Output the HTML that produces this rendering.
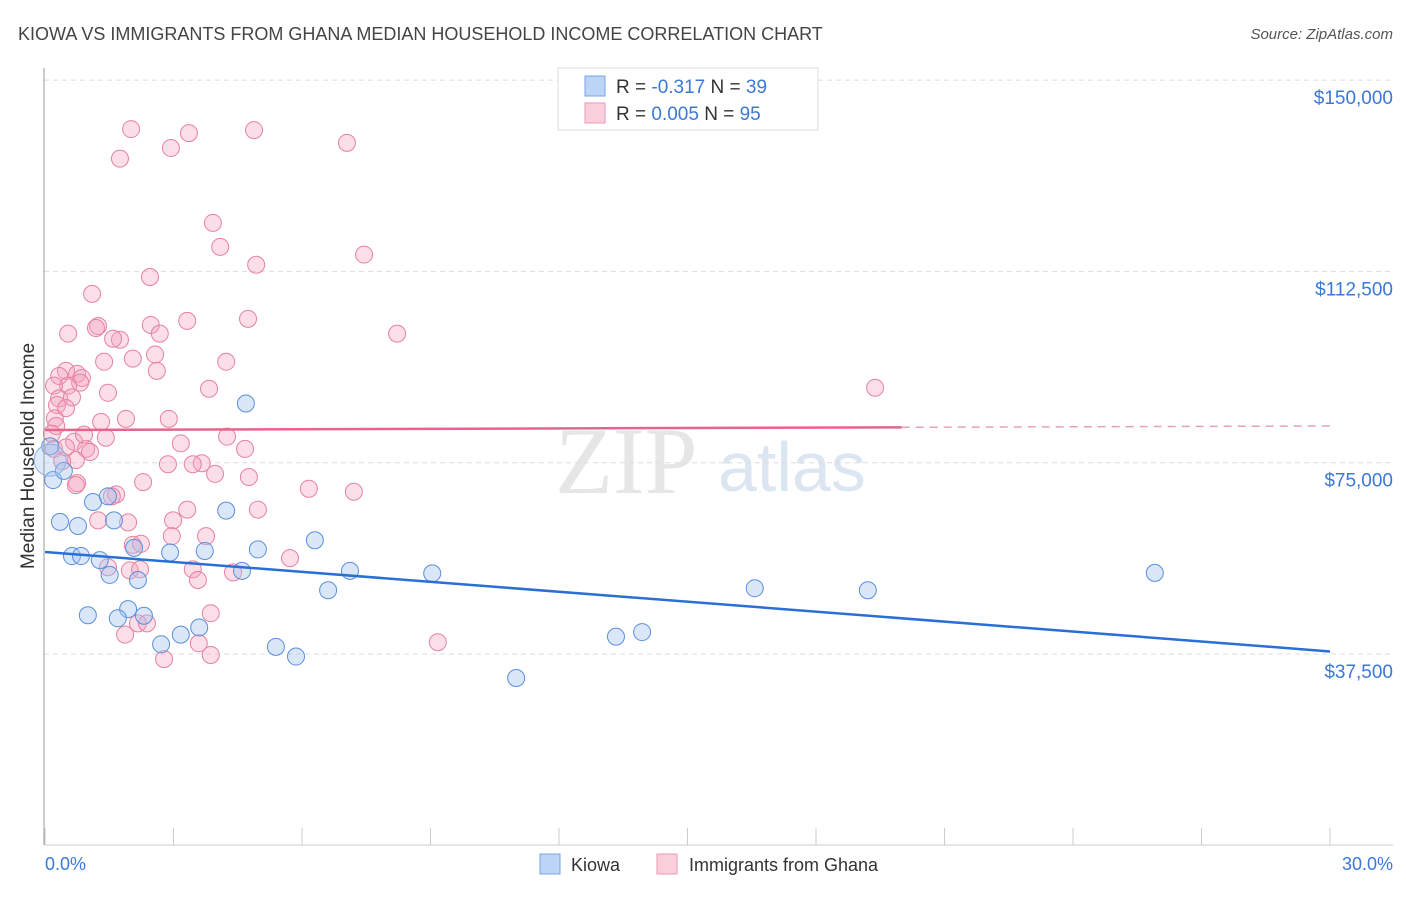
<!DOCTYPE html>
<html><head><meta charset="utf-8"><style>
body{margin:0;background:#fff;font-family:"Liberation Sans",sans-serif}
</style></head><body>
<svg width="1406" height="892" id="c" xmlns="http://www.w3.org/2000/svg">
<text x="18" y="40" font-size="18" fill="#444">KIOWA VS IMMIGRANTS FROM GHANA MEDIAN HOUSEHOLD INCOME CORRELATION CHART</text>
<text x="1393" y="39" font-size="15" fill="#555" text-anchor="end" font-style="italic">Source: ZipAtlas.com</text>
<text x="34" y="456" font-size="19" fill="#333" text-anchor="middle" transform="rotate(-90 34 456)">Median Household Income</text>
<text x="555" y="493" font-size="95" fill="#e6e6e6" font-family="Liberation Serif">ZIP</text>
<text x="718" y="491" font-size="70" fill="#dce6f2">atlas</text>
<g id="grid"></g><g id="pts"></g><g id="lines"></g>
<line x1="44" y1="68" x2="44" y2="845" stroke="#999"/>
<line x1="44" y1="845" x2="1393" y2="845" stroke="#ccc"/>
<text x="45" y="870" font-size="18" fill="#3b78d8">0.0%</text>
<text x="1393" y="870" font-size="18" fill="#3b78d8" text-anchor="end">30.0%</text>
<g>
<rect x="558" y="68" width="260" height="62" fill="#fff" stroke="#ddd"/>
<rect x="585" y="76" width="20" height="20" fill="#bcd4f5" stroke="#7aa6e6"/>
<rect x="585" y="103" width="20" height="20" fill="#f9cfdc" stroke="#ee9ab4"/>
<text x="616" y="93" font-size="19" fill="#333">R = <tspan fill="#3b78d8">-0.317</tspan>   N = <tspan fill="#3b78d8">39</tspan></text>
<text x="616" y="120" font-size="19" fill="#333">R = <tspan fill="#3b78d8"> 0.005</tspan>   N = <tspan fill="#3b78d8">95</tspan></text>
</g>
<g>
<rect x="540" y="854" width="20" height="20" fill="#bcd4f5" stroke="#7aa6e6"/>
<text x="571" y="871" font-size="18" fill="#333">Kiowa</text>
<rect x="657" y="854" width="20" height="20" fill="#f9cfdc" stroke="#ee9ab4"/>
<text x="689" y="871" font-size="18" fill="#333">Immigrants from Ghana</text>
</g>
</svg>
<script>
const yTicks=[37500,75000,112500,150000];
const yTickLabels=["$37,500","$75,000","$112,500","$150,000"];
const kiowaX=[0.19,0.44,0.12,0.35,0.77,1.12,0.63,0.84,1.28,1.61,1.51,1.47,1.94,1.00,1.70,2.31,2.08,2.17,2.71,3.17,2.92,3.60,3.73,4.23,4.60,4.97,5.39,5.86,6.30,6.61,7.12,9.04,11.0,13.33,13.94,16.57,19.21,25.91,4.69];
const kiowaY=[71600,73400,78200,63400,62600,67300,56700,56700,55900,63700,53000,68400,46300,45100,44500,45000,58300,52000,39400,41300,57400,42700,57700,65600,53800,58000,38900,37000,59800,50000,53800,53300,32800,40900,41800,50400,50000,53400,86600];
const ghanaX=[1.75,2.01,2.94,3.36,4.88,7.05,3.92,4.09,4.93,7.45,2.45,1.10,4.74,2.47,3.32,1.24,1.19,0.54,1.75,2.68,8.22,1.59,2.57,1.38,2.05,4.23,2.61,0.49,0.33,0.75,0.86,0.82,0.54,0.21,1.47,3.83,19.38,0.33,0.63,0.28,0.49,0.23,0.26,1.31,1.89,2.89,0.16,0.68,1.42,4.25,3.17,0.21,0.96,1.05,0.72,4.67,0.40,2.87,3.66,3.97,3.45,4.76,2.29,0.75,0.72,1.66,1.56,6.16,7.21,1.24,1.94,2.99,3.32,4.97,2.96,3.76,2.05,2.24,1.47,1.98,2.22,3.45,4.39,5.72,3.57,2.17,2.38,1.87,3.87,3.59,2.78,3.87,9.17,0.49,0.91];
const ghanaY=[134600,140400,136700,139600,140200,137700,122000,117300,113800,115800,111400,108100,103200,102000,102800,101800,101400,100300,99100,100300,100300,99300,96200,94800,95400,94800,93000,93000,92000,92400,91600,90700,90100,90100,88700,89500,89700,87600,87800,86300,85700,83700,82200,83000,83600,83600,80700,79100,79900,80100,78800,77700,77700,77100,75500,77700,75300,74700,74900,72800,74700,72200,71200,71000,70600,68800,68400,69900,69300,63700,63300,63700,65800,65800,60600,60600,58900,59100,54500,53900,54100,54100,53500,56300,52000,43500,43500,41300,45500,39600,36500,37300,39800,78000,80500];
const trendPink=[81400,82200]; // at 0% and 30%
const trendBlue=[57500,38000];
const NS="http://www.w3.org/2000/svg";
const xs=p=>45+p/30*1285, ys=v=>654-(v-37500)/37500*191.3;
function mk(t,a,parent){const e=document.createElementNS(NS,t);for(const k in a)e.setAttribute(k,a[k]);parent.appendChild(e);return e;}
const grid=document.getElementById('grid');
yTicks.forEach((v,i)=>{
 const l=mk('line',{x1:44,x2:1393,y1:ys(v),y2:ys(v),stroke:'#ddd','stroke-dasharray':'5,4'},grid);
 
 
 const t=mk('text',{x:1393,y:ys(v)+24,'font-size':19,fill:'#3b78d8','text-anchor':'end'},grid);
 t.textContent=yTickLabels[i];
 
 
});
for(let i=0;i<=10;i++){
 const tk=mk('line',{x1:xs(i*3),x2:xs(i*3),y1:828,y2:845,stroke:'#ccc'},grid);
 
 
}
const pts=document.getElementById('pts');
ghanaX.forEach((x,i)=>{
 const c=mk('circle',{cx:xs(x),cy:ys(ghanaY[i]),r:8.5,fill:'rgba(244,160,188,0.35)',stroke:'#e8829f','stroke-width':1},pts);
 
 
});
kiowaX.forEach((x,i)=>{
 const c=mk('circle',{cx:xs(x),cy:ys(kiowaY[i]),r:8.5,fill:'rgba(160,196,240,0.4)',stroke:'#5b8fdc','stroke-width':1},pts);
 
 
});
const big=mk('circle',{cx:xs(0.12),cy:ys(75500),r:16,fill:'rgba(160,196,240,0.35)',stroke:'#8db3e8'},pts);


const L=document.getElementById('lines');
const pm=trendPink[0]+(trendPink[1]-trendPink[0])*20/30;
const p1=mk('line',{x1:xs(0),y1:ys(trendPink[0]),x2:xs(20),y2:ys(pm),stroke:'#e8648c','stroke-width':2.5},L);


const p2=mk('line',{x1:xs(20),y1:ys(pm),x2:xs(30),y2:ys(trendPink[1]),stroke:'#e8a0b8','stroke-width':1.5,'stroke-dasharray':'8,6'},L);


const b=mk('line',{x1:xs(0),y1:ys(trendBlue[0]),x2:xs(30),y2:ys(trendBlue[1]),stroke:'#2a6fd6','stroke-width':2.5},L);


</script>
</body></html>
